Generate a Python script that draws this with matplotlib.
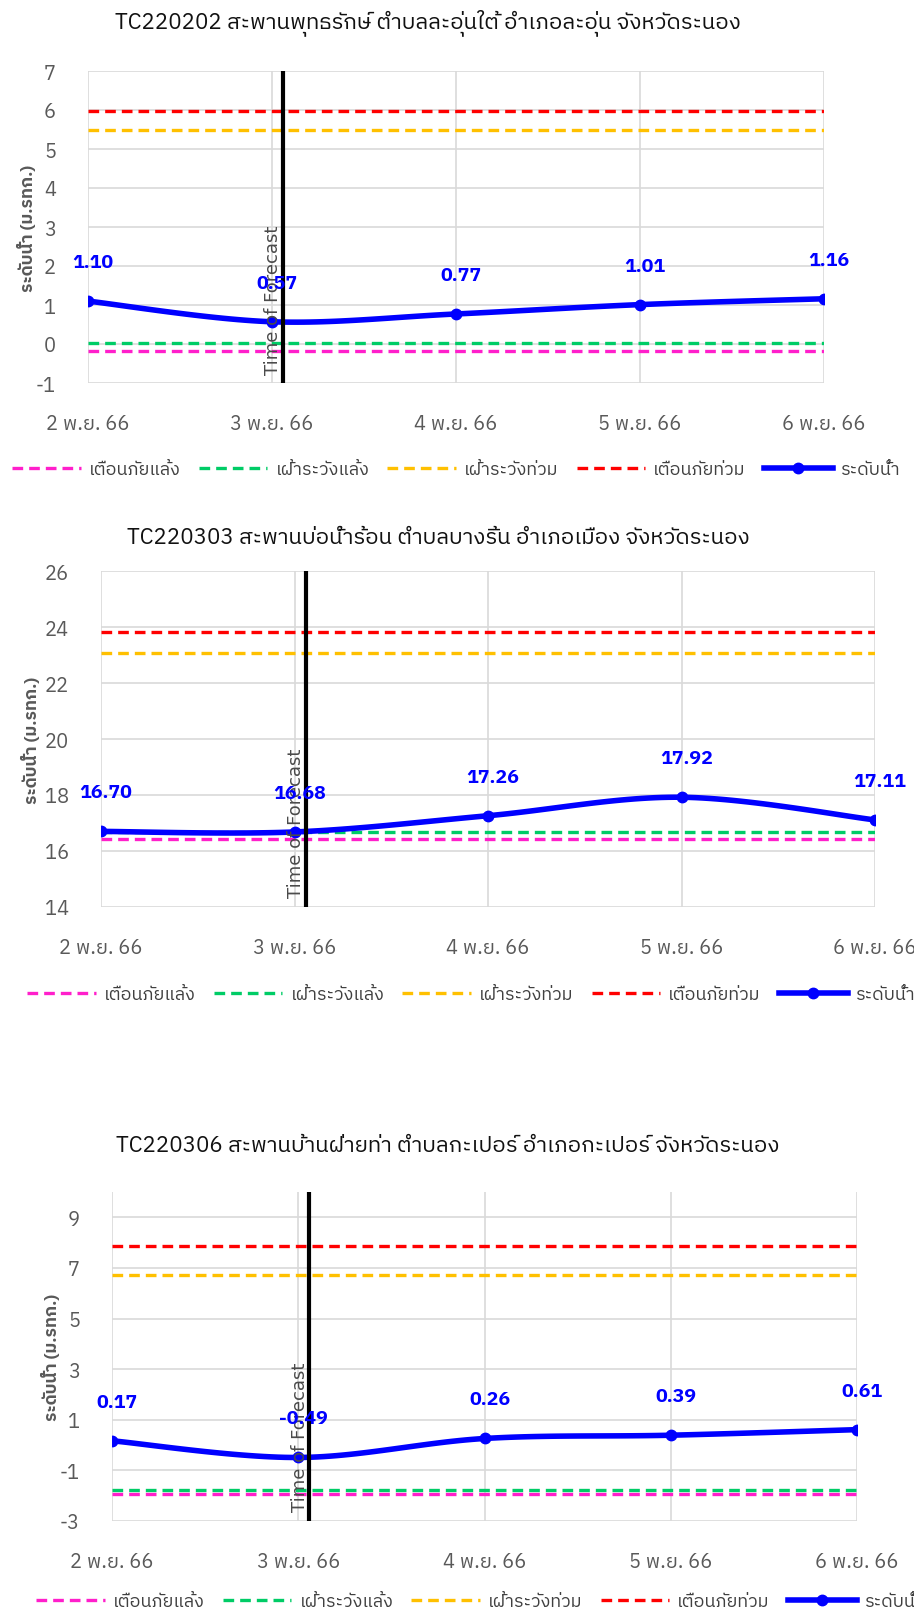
import numpy as np
import matplotlib
matplotlib.use('Agg')
import matplotlib.pyplot as plt
from matplotlib import font_manager
from matplotlib.ft2font import FT2Font
from matplotlib.lines import Line2D

# ---- data ----
dates = ['2 พ.ย. 66', '3 พ.ย. 66', '4 พ.ย. 66', '5 พ.ย. 66', '6 พ.ย. 66']

title_220202 = 'TC220202 สะพานพุทธรักษ์ ตำบลละอุ่นใต้ อำเภอละอุ่น จังหวัดระนอง'
title_220303 = 'TC220303 สะพานบ่อน้ำร้อน ตำบลบางริ้น อำเภอเมือง จังหวัดระนอง'
title_220306 = 'TC220306 สะพานบ้านฝ่ายท่า ตำบลกะเปอร์ อำเภอกะเปอร์ จังหวัดระนอง'

level_220202 = [1.10, 0.57, 0.77, 1.01, 1.16]
level_220303 = [16.70, 16.68, 17.26, 17.92, 17.11]
level_220306 = [0.17, -0.49, 0.26, 0.39, 0.61]

# drought warning, drought watch, flood watch, flood warning
thresh_220202 = [-0.17, 0.02, 5.49, 5.98]
thresh_220303 = [16.44, 16.67, 23.08, 23.83]
thresh_220306 = [-1.95, -1.78, 6.71, 7.85]

threshold_names = ['เตือนภัยแล้ง', 'เฝ้าระวังแล้ง', 'เฝ้าระวังท่วม', 'เตือนภัยท่วม']
level_name = 'ระดับน้ำ'
ylabel_text = 'ระดับน้ำ (ม.รทก.)'
forecast_text = 'Time of Forecast'
forecast_pos = 1.06

threshold_colors = ['#FF1FCB', '#00CC66', '#FFC000', '#FF0000']
GRID = '#D9D9D9'
TICK = '#595959'


def find_thai_font():
    found = []
    for f in font_manager.fontManager.ttflist:
        try:
            if 0x0E2A in FT2Font(f.fname).get_charmap():
                found.append(f.name)
        except Exception:
            pass
    if not found:
        return None
    found = sorted(set(found), key=lambda n: (('Sans' not in n), ('Thai' not in n), n))
    return found[0]


thai = find_thai_font()
fam = [thai, 'DejaVu Sans'] if thai else ['DejaVu Sans']
plt.rcParams['font.family'] = fam
plt.rcParams['axes.unicode_minus'] = False


def smooth(x, y, n=30):
    # bezier smoothing like the spreadsheet "smoothed line"
    px = np.r_[x[0], x, x[-1]]
    py = np.r_[y[0], y, y[-1]]
    t = np.linspace(0, 1, n)
    xs, ys = [], []
    for i in range(len(x) - 1):
        p0, p1, p2, p3 = px[i], px[i + 1], px[i + 2], px[i + 3]
        q0, q1, q2, q3 = py[i], py[i + 1], py[i + 2], py[i + 3]
        c1x, c2x = p1 + (p2 - p0) / 6, p2 - (p3 - p1) / 6
        c1y, c2y = q1 + (q2 - q0) / 6, q2 - (q3 - q1) / 6
        b = [(1 - t) ** 3, 3 * (1 - t) ** 2 * t, 3 * (1 - t) * t ** 2, t ** 3]
        xs.append(b[0] * p1 + b[1] * c1x + b[2] * c2x + b[3] * p2)
        ys.append(b[0] * q1 + b[1] * c1y + b[2] * c2y + b[3] * q2)
    return np.concatenate(xs), np.concatenate(ys)


W, H = 914, 1615
fig = plt.figure(figsize=(W / 100, H / 100), dpi=100)


def draw_chart(box, title, title_xy, levels, thresholds, ylim, yticks,
               ylab_x, legend_xy, tick_fs=14.5, pad_x=22, pad_y=23):
    l, t, r, b = box
    ax = fig.add_axes([l / W, 1 - b / H, (r - l) / W, (b - t) / H])
    x = np.arange(len(dates))

    for name, val, col in zip(threshold_names, thresholds, threshold_colors):
        ax.plot(x, [val] * len(x), color=col, lw=2.4, dashes=(3.2, 1.8),
                dash_capstyle='butt', label=name, zorder=3)

    sx, sy = smooth(x.astype(float), np.array(levels, dtype=float))
    ax.plot(sx, sy, color='#0000FF', lw=4.0, solid_capstyle='round', zorder=4)
    ax.plot(x, levels, 'o', color='#0000FF', ms=7.5, zorder=5)

    ax.axvline(forecast_pos, color='black', lw=3, zorder=6)
    ax.text(forecast_pos - 0.004, ylim[0] + (ylim[1] - ylim[0]) * 0.03, forecast_text,
            rotation=90, ha='right', va='bottom', fontsize=13, color='#4a4a4a',
            family='DejaVu Sans', zorder=5)

    for xi, v in zip(x, levels):
        ax.annotate(f'{v:.2f}', (xi, v), xytext=(5, 39), textcoords='offset pixels',
                    ha='center', va='center', color='#0000FF', fontsize=14,
                    fontweight='bold', zorder=7, annotation_clip=False)

    ax.set_xlim(0, len(dates) - 1)
    ax.set_ylim(*ylim)
    ax.set_yticks(yticks)
    ax.set_xticks(x)
    ax.set_xticklabels(dates)
    ax.grid(True, color=GRID, lw=1.2, zorder=0)
    ax.set_axisbelow(True)
    for s in ax.spines.values():
        s.set_visible(False)
    ax.tick_params(length=0, colors=TICK, labelsize=tick_fs)
    ax.tick_params(axis='x', pad=pad_x)
    ax.tick_params(axis='y', pad=pad_y)

    fig.text(title_xy[0] / W, 1 - title_xy[1] / H, title, ha='center', va='center',
             fontsize=16, color='#111111')
    fig.text(ylab_x / W, 1 - ((t + b) / 2) / H, ylabel_text, rotation=90,
             ha='center', va='center', fontsize=12.5, fontweight='bold', color=TICK)

    handles = [Line2D([], [], color=c, lw=2.4, dashes=(3.2, 1.8), dash_capstyle='butt')
               for c in threshold_colors]
    handles.append(Line2D([], [], color='#0000FF', lw=4.0, marker='o', ms=7.5))
    fig.legend(handles, threshold_names + [level_name], loc='center left',
               bbox_to_anchor=(legend_xy[0] / W, 1 - legend_xy[1] / H),
               ncol=5, frameon=False, fontsize=13, labelcolor='#404040',
               handlelength=3.8, handletextpad=0.45, columnspacing=1.0,
               borderpad=0, borderaxespad=0)
    return ax


draw_chart((88, 72, 824, 384), title_220202, (428, 23), level_220202, thresh_220202,
           (-1, 7), np.arange(-1, 8, 1), 26, (12, 470))
draw_chart((101, 572, 875, 908), title_220303, (438, 538), level_220303, thresh_220303,
           (14, 26), np.arange(14, 27, 2), 30, (27, 995))
draw_chart((112, 1193, 857, 1522), title_220306, (448, 1146), level_220306, thresh_220306,
           (-3, 10), np.arange(-3, 10, 2), 50, (36, 1602))

fig.savefig('out.png', dpi=100)
